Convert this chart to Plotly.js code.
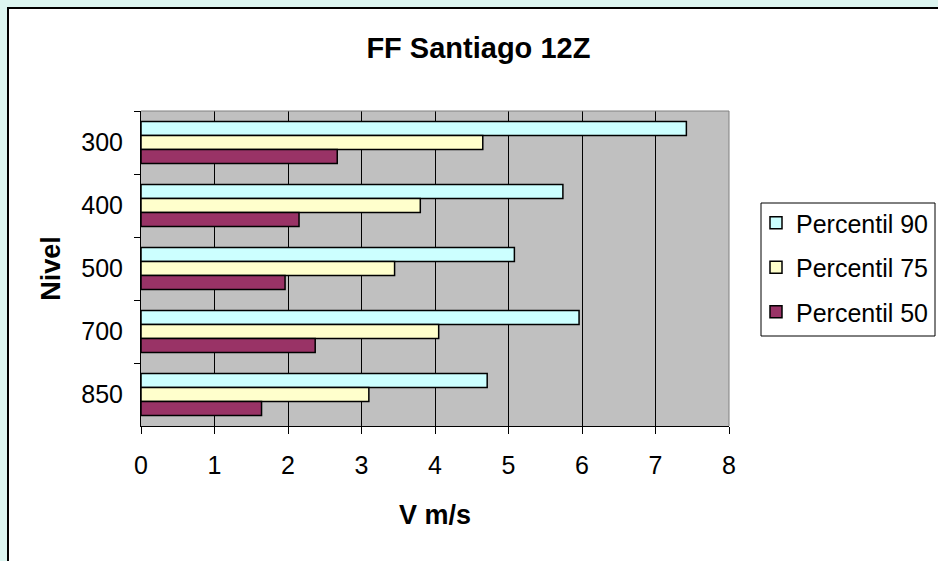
<!DOCTYPE html>
<html>
<head>
<meta charset="utf-8">
<script src="https://cdn.plot.ly/plotly-3.0.1.min.js"></script>
<style>
  html, body { margin: 0; padding: 0; background: #dcf5f0; overflow: hidden; }
  #panel { position: absolute; left: 7px; top: 7px; width: 960px; height: 580px;
           background: #ffffff; border-left: 2px solid #000; border-top: 2px solid #000; box-sizing: border-box; }
  #chart { position: absolute; left: 0; top: 0; width: 938px; height: 561px; }
</style>
</head>
<body>
<div id="panel"></div>
<div id="chart"></div>
<script>
// ---- data ----
const levels = ['300', '400', '500', '700', '850'];
const p90 = [7.42, 5.74, 5.08, 5.96, 4.71];
const p75 = [4.65, 3.80, 3.45, 4.05, 3.10];
const p50 = [2.67, 2.15, 1.96, 2.37, 1.64];
const seriesNames = ['Percentil 90', 'Percentil 75', 'Percentil 50'];
const xTicks = [0, 1, 2, 3, 4, 5, 6, 7, 8];

// ---- geometry helpers (pixels -> paper) ----
const W = 938, H = 561;
const M = { l: 141, r: 209, t: 111, b: 135, autoexpand: false };
const PW = W - M.l - M.r, PH = H - M.t - M.b;
const px = x => (x - M.l) / PW;
const py = y => (H - M.b - y) / PH;

const FONT = 'Liberation Sans, Arial, sans-serif';
const colors = ['#ccffff', '#ffffcc', '#993366'];
const vals = [p90, p75, p50];

const traces = vals.map((v, i) => ({
  type: 'bar',
  orientation: 'h',
  name: seriesNames[i],
  y: levels,
  x: v,
  legendgroup: 'g' + i,
  marker: { color: colors[i], line: { color: '#000000', width: 1.5 } },
  hoverinfo: 'x+name'
}));

const shapes = [
  // legend box
  { type: 'rect', xref: 'paper', yref: 'paper', x0: px(761), x1: px(935), y0: py(336), y1: py(203),
    fillcolor: '#ffffff', line: { color: '#000000', width: 1 }, layer: 'below' },
  // plot area gray border top & right
  { type: 'line', xref: 'paper', yref: 'paper', x0: 0, x1: 1, y0: 1, y1: 1,
    line: { color: '#808080', width: 1 }, layer: 'above' },
  { type: 'line', xref: 'paper', yref: 'paper', x0: 1, x1: 1, y0: 0, y1: 1,
    line: { color: '#808080', width: 1 }, layer: 'above' }
];

const layout = {
  width: W, height: H,
  margin: M,
  paper_bgcolor: 'rgba(0,0,0,0)',
  plot_bgcolor: '#c0c0c0',
  font: { family: FONT, color: '#000000', size: 25 },
  title: {
    text: '<b>FF Santiago 12Z</b>',
    font: { family: FONT, size: 29, color: '#000000' },
    xref: 'container', yref: 'container',
    x: 0.51, xanchor: 'center', y: 1 - 48 / H, yanchor: 'middle'
  },
  barmode: 'group',
  bargap: 0.333,
  bargroupgap: 0,
  xaxis: {
    range: [0, 8],
    tickvals: xTicks,
    ticktext: xTicks.map(String),
    showgrid: true, gridcolor: '#000000', gridwidth: 1,
    zeroline: false,
    showline: true, linecolor: '#000000', linewidth: 1,
    ticks: 'outside', ticklen: 7, tickcolor: '#000000', tickwidth: 1,
    tickfont: { family: FONT, size: 25 },
    ticklabelstandoff: 10,
    title: { text: '<b>V m/s</b>', font: { family: FONT, size: 27 }, standoff: 27 },
    fixedrange: true
  },
  yaxis: {
    type: 'category',
    autorange: 'reversed',
    tickson: 'boundaries',
    showgrid: false,
    showline: true, linecolor: '#000000', linewidth: 1,
    ticks: 'outside', ticklen: 6, tickcolor: '#000000', tickwidth: 1,
    tickfont: { family: FONT, size: 25 },
    ticklabelstandoff: 12,
    title: { text: '<b>Nivel</b>', font: { family: FONT, size: 27 }, standoff: 12 },
    fixedrange: true
  },
  legend: {
    x: px(756), xanchor: 'left',
    y: py(200), yanchor: 'top',
    bgcolor: 'rgba(0,0,0,0)',
    borderwidth: 0,
    font: { family: FONT, size: 25 },
    traceorder: 'grouped',
    tracegroupgap: 9
  },
  shapes: shapes,
  showlegend: true
};

Plotly.newPlot('chart', traces, layout, { displayModeBar: false, staticPlot: true });
</script>
</body>
</html>
